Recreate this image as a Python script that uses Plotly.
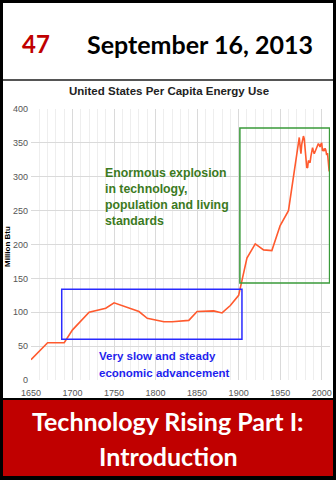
import plotly.graph_objects as go

W, H = 336, 480
L, R, T, B = 31, 6, 109, 100  # plot area: x 31..330, y 109..380

years = [1650, 1670, 1690, 1700, 1720, 1740, 1750, 1780, 1790, 1810, 1820, 1840,
         1850, 1870, 1880, 1890, 1900, 1910, 1920, 1930, 1940, 1950, 1960,
         1970, 1971, 1972, 1973, 1974, 1975, 1976, 1977, 1978, 1979, 1980,
         1981, 1982, 1983, 1984, 1985, 1986, 1987, 1988, 1989, 1990, 1991,
         1992, 1993, 1994, 1995, 1996, 1997, 1998, 1999, 2000, 2001, 2002,
         2003, 2004, 2005, 2006, 2007, 2008, 2009, 2010]
energy = [30, 55, 55, 74, 100, 106, 114, 101, 91, 86, 86, 88,
          101, 102, 99, 110, 125, 180, 201, 192, 191, 228, 250,
          331, 336, 350, 358, 345, 334, 348, 355, 360, 356, 342,
          328, 314, 313, 324, 322, 321, 330, 338, 343, 338, 334,
          337, 340, 342, 345, 349, 347, 344, 348, 350, 338, 340,
          338, 342, 339, 332, 335, 322, 308, 313]

x_ticks = [1650, 1700, 1750, 1800, 1850, 1900, 1950, 2000]
y_ticks = [0, 50, 100, 150, 200, 250, 300, 350, 400]

blue_box = dict(x0=1687, x1=1904, y0=60, y1=134)
green_box = dict(x0=1901.5, x1=2009.5, y0=143, y1=372)

PW, PH = W - L - R, H - T - B


def fx(p):
    return (p - L) / PW


def fy(p):
    return (H - B - p) / PH


fig = go.Figure()
fig.add_trace(go.Scatter(x=years, y=energy, mode="lines",
                         line=dict(color="#ff5a2e", width=1.6),
                         hoverinfo="skip", showlegend=False))

arial = "Liberation Sans, Arial, sans-serif"
calibri = "Lato, Open Sans, sans-serif"

fig.update_layout(
    width=W, height=H,
    margin=dict(l=L, r=R, t=T, b=B, autoexpand=False),
    paper_bgcolor="white", plot_bgcolor="white",
    showlegend=False,
    xaxis=dict(range=[1650, 2010], automargin=False,
               tickvals=x_ticks, showgrid=True, gridcolor="#dadada", gridwidth=1,
               minor=dict(dtick=10, tick0=1650, showgrid=True, gridcolor="#eeeeee"),
               zeroline=False, showline=False, ticks="", ticklabelstandoff=6,
               tickfont=dict(family=arial, size=9, color="#555555"),
               fixedrange=True),
    yaxis=dict(range=[0, 400], automargin=False,
               tickvals=y_ticks, showgrid=True, gridcolor="#dadada", gridwidth=1,
               zeroline=False, showline=False, ticks="", ticklabelstandoff=2,
               tickfont=dict(family=arial, size=9, color="#555555"),
               fixedrange=True),
)

shapes = []
shapes.append(dict(type="rect", xref="x", yref="y", **blue_box,
                   line=dict(color="#2a2aff", width=1.5)))
shapes.append(dict(type="rect", xref="x", yref="y", **green_box,
                   line=dict(color="#3a9a3a", width=1.5)))
shapes.append(dict(type="line", xref="paper", yref="paper",
                   x0=fx(0), x1=fx(W), y0=fy(80), y1=fy(80),
                   line=dict(color="#555555", width=2)))
shapes.append(dict(type="rect", xref="paper", yref="paper",
                   x0=fx(0), x1=fx(W), y0=fy(477), y1=fy(399),
                   fillcolor="#c00000", line=dict(color="black", width=2), layer="above"))
shapes.append(dict(type="rect", xref="paper", yref="paper",
                   x0=fx(1.5), x1=fx(334.5), y0=fy(478.5), y1=fy(1.5),
                   line=dict(color="black", width=3)))
fig.update_layout(shapes=shapes)


def note(text, x, y, size, color, family, xanchor="center", angle=0):
    return dict(text=text, x=fx(x), y=fy(y), xref="paper", yref="paper",
                showarrow=False, xanchor=xanchor, yanchor="middle", align="left",
                textangle=angle, font=dict(family=family, size=size, color=color))


ann = [
    note("<b>47</b>", 36, 44, 24, "#c00000", calibri),
    note("<b>September 16, 2013</b>", 200, 44, 25, "black", calibri),
    note("<b>United States Per Capita Energy Use</b>", 169, 91, 11.5, "#222222", arial),
    note("<b>Million Btu</b>", 7, 247, 8, "black", arial, angle=-90),
    note("<b>Enormous explosion<br>in technology,<br>population and living<br>standards</b>",
         103, 197, 12.3, "#3c7a1e", arial, xanchor="left"),
    note("<b>Very slow and steady</b>", 97, 356, 11.5, "#1f1fee", arial, xanchor="left"),
    note("<b>economic advancement</b>", 97, 373, 11.5, "#1f1fee", arial, xanchor="left"),
    note("<b>Technology Rising Part I:</b>", 168, 421, 25, "white", calibri),
    note("<b>Introduction</b>", 168, 456, 25, "white", calibri),
]
fig.update_layout(annotations=ann)

fig.write_html("out.html")
